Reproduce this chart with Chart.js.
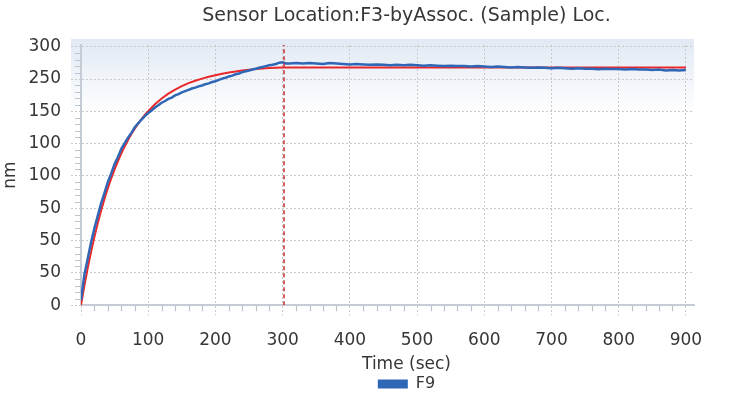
<!DOCTYPE html>
<html><head><meta charset="utf-8">
<script src="https://cdn.jsdelivr.net/npm/chart.js@4.4.1/dist/chart.umd.min.js"></script>
<style>html,body{margin:0;padding:0;background:#fff;overflow:hidden}#wrap{position:relative;width:751px;height:397px}</style>
</head><body><div id="wrap"><canvas id="c"></canvas></div>
<script>
const TITLE = 'Sensor Location:F3-byAssoc. (Sample) Loc.';
const X_TITLE = 'Time (sec)';
const Y_TITLE = 'nm';
const SERIES_NAME = 'F9';

const xTickValues = [0, 100, 200, 300, 400, 500, 600, 700, 800, 900];
const yTickValues = [0, 37.5, 75, 112.5, 150, 187.5, 225, 262.5, 300];
const yTickLabels = ['0', '50', '50', '50', '100', '100', '150', '250', '300'];

const cursorTime = 302;

const redTime = [0,5,10,15,20,25,30,35,40,45,50,55,60,65,70,75,80,85,90,95,100,110,120,130,140,150,160,170,180,190,200,210,220,230,240,250,260,270,280,290,300,400,500,600,700,800,900];
const redValues = [0,22.4,43.0,61.9,79.3,95.3,110.0,123.5,135.9,147.3,157.7,167.3,176.2,184.3,191.7,198.6,204.9,210.6,215.9,220.8,225.3,233.2,239.9,245.5,250.3,254.3,257.7,260.5,263.0,265.2,267.0,268.6,270.0,271.2,272.3,273.3,274.1,274.8,275.3,275.7,276,276,276,276,276,276,276];

const blueTime = [0,5,10,15,20,25,30,35,40,45,50,55,60,65,70,75,80,85,90,95,100,105,110,115,120,125,130,135,140,145,150,155,160,165,170,175,180,185,190,195,200,205,210,215,220,225,230,235,240,245,250,255,260,265,270,275,280,285,290,295,300,305,310,320,330,340,350,360,370,380,390,400,410,420,430,440,450,460,470,480,490,500,510,520,530,540,550,560,570,580,590,600,610,620,630,640,650,660,670,680,690,700,710,720,730,740,750,760,770,780,790,800,810,820,830,840,850,860,870,880,890,900];
const blueValues = [6,35.5,54,73,89.5,104,118.5,130.5,143,153,164,172,181.5,188,194.5,200,206.5,211,215.5,219.5,223,226,229.5,232,235,237,239.5,241,243.5,245,247,248.5,250,251.5,252.5,254,255,256.5,257.5,259,260,261.5,263,264,265.5,266.5,268,269,270.5,271.5,272.5,273.5,274.5,275.5,276.5,277.5,278.5,279,280,281.5,282,280.5,280.5,281,280.5,281,280.5,280,281,280.5,280,279.5,280,279.5,279,279.5,279,278.5,279,278.5,279,278.5,278,278.5,278,277.5,278,277.5,277.5,277,277.5,277,276.5,277,276.5,276,276.5,276,275.5,276,275.5,275,275.5,275,274.5,275,274.5,274.5,274,274.5,274,274,273.5,274,273.5,273.5,273,273.5,272.5,273,272.5,273];

const FONT = '"DejaVu Sans", sans-serif';
const TEXT = '#363636';
const BLUE = '#2f66b6';
const RED = '#e8282b';
const CURSOR = '#c42a2e';
const Y_MIN = 0, Y_MAX = 302;
const X_MIN = 0, X_MAX = 912;

const decor = {
  id: 'decor',
  beforeDraw(chart) {
    const {ctx, chartArea: a} = chart;
    const g = ctx.createLinearGradient(0, a.top - 6, 0, a.top + 70);
    g.addColorStop(0, '#e1e9f4');
    g.addColorStop(1, '#ffffff');
    ctx.save();
    ctx.fillStyle = g;
    ctx.fillRect(a.left - 10, a.top - 6, a.right - a.left + 10, a.bottom - a.top + 6);
    ctx.restore();
  },
  afterDraw(chart) {
    const {ctx, chartArea: a} = chart;
    const xs = chart.scales.x, ys = chart.scales.y;
    ctx.save();
    ctx.strokeStyle = '#bcc4ce';
    ctx.lineWidth = 1.2;
    ctx.beginPath();
    for (let i = 0; i < yTickValues.length - 1; i++) {
      const v0 = yTickValues[i], v1 = yTickValues[i + 1];
      for (let k = 1; k < 5; k++) {
        const y = Math.round(ys.getPixelForValue(v0 + (v1 - v0) * k / 5)) + 0.5;
        ctx.moveTo(a.left - 6, y); ctx.lineTo(a.left, y);
      }
    }
    for (let i = 0; i < xTickValues.length - 1; i++) {
      const v0 = xTickValues[i], v1 = xTickValues[i + 1];
      for (let k = 1; k < 5; k++) {
        const x = Math.round(xs.getPixelForValue(v0 + (v1 - v0) * k / 5)) + 0.5;
        ctx.moveTo(x, a.bottom); ctx.lineTo(x, a.bottom + 6);
      }
    }
    ctx.stroke();
    ctx.restore();
  }
};

const toPts = (t, v) => t.map((x, i) => ({x, y: v[i]}));

new Chart(document.getElementById('c'), {
  type: 'line',
  data: {
    datasets: [
      {label: 'cursor', data: [{x: cursorTime, y: Y_MIN}, {x: cursorTime, y: Y_MAX}], borderColor: CURSOR, borderWidth: 1.5, borderDash: [4, 3], pointRadius: 0, fill: false},
      {label: SERIES_NAME, data: toPts(blueTime, blueValues), borderColor: BLUE, backgroundColor: BLUE, borderWidth: 2.5, pointRadius: 0, tension: 0, fill: false},
      {label: 'fit', data: toPts(redTime, redValues), borderColor: RED, backgroundColor: RED, borderWidth: 2, pointRadius: 0, tension: 0, fill: false}
    ]
  },
  options: {
    responsive: true, maintainAspectRatio: false, animation: false, devicePixelRatio: 1,
    layout: {padding: {left: 0, right: -62, top: 0, bottom: -5}},
    plugins: {
      title: {display: true, text: TITLE, color: TEXT, font: {family: FONT, size: 19, weight: 'normal', lineHeight: 1.2}, padding: {top: 5, bottom: 17.2}},
      subtitle: {display: true, position: 'bottom', weight: 500, text: X_TITLE, color: TEXT, font: {family: FONT, size: 17, weight: 'normal'}, padding: {top: -11, bottom: 0}},
      legend: {
        display: true, position: 'bottom',
        labels: {
          boxWidth: 30, boxHeight: 9, padding: 1, color: TEXT, font: {family: FONT, size: 16},
          generateLabels(chart) {
            const items = Chart.defaults.plugins.legend.labels.generateLabels(chart);
            return items.filter(i => i.datasetIndex === 1).map(i => Object.assign(i, {lineWidth: 0, fillStyle: BLUE, strokeStyle: BLUE}));
          }
        }
      },
      tooltip: {enabled: false}
    },
    scales: {
      x: {
        type: 'linear', min: X_MIN, max: X_MAX,
        afterBuildTicks: s => { s.ticks = xTickValues.map(v => ({value: v})); },
        grid: {color: '#c9c9c9', lineWidth: 1, tickLength: 10, tickColor: '#c9c9c9', tickBorderDash: [2, 2]},
        border: {display: true, color: '#c5ccd5', width: 2, dash: [2, 2]},
        ticks: {color: TEXT, font: {family: FONT, size: 17}, padding: 15, maxRotation: 0, callback: v => String(v)}
      },
      y: {
        type: 'linear', position: 'left', min: Y_MIN, max: Y_MAX,
        afterBuildTicks: s => { s.ticks = yTickValues.map(v => ({value: v})); },
        afterFit: s => { s.width = 81; },
        grid: {color: '#c9c9c9', lineWidth: 1, tickLength: 10, tickColor: '#c9c9c9', tickBorderDash: [2, 2]},
        border: {display: true, color: '#c5ccd5', width: 2, dash: [2, 2]},
        ticks: {color: TEXT, font: {family: FONT, size: 17}, padding: 10, callback: (v, i) => yTickLabels[i]},
        title: {display: true, text: Y_TITLE, color: TEXT, font: {family: FONT, size: 17}, padding: {top: 0, bottom: 0}}
      },
      yRight: {
        type: 'linear', position: 'right', display: true,
        afterFit: s => { s.width = 119; },
        grid: {display: false, drawTicks: false},
        border: {display: false},
        ticks: {display: false}
      }
    }
  },
  plugins: [decor]
});
</script></body></html>
